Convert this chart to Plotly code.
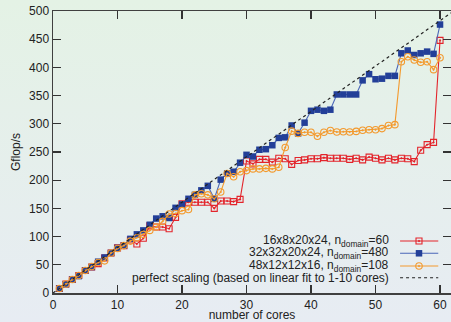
import base64
import plotly.graph_objects as go

cores = list(range(1, 61))

red_vals = [8, 16, 24, 31, 40, 46, 52, 62, 71, 80, 84, 94, 87, 97, 119, 117, 117, 114, 134, 158,
            161, 161, 161, 161, 150, 163, 163, 162, 166, 234, 229, 237, 237, 232, 239, 238, 228, 235, 236, 238,
            238, 240, 239, 239, 239, 237, 239, 236, 241, 239, 236, 239, 236, 239, 238, 233, 253, 263, 267, 448]

blue_vals = [8, 15.5, 24, 30, 40, 46, 55.5, 63, 71, 80, 84, 96, 104, 111, 121, 132, 136, 133, 151, 157,
             167, 174, 182, 190, 167, 201, 212, 215, 231, 245, 242, 254, 255, 262, 275, 276, 297, 283, 302, 323,
             325, 323, 325, 352, 352, 352, 352, 377, 388, 379, 380, 385, 385, 425, 430, 422, 425, 428, 424, 476]

orange_vals = [8, 16, 24, 31, 40, 47, 54, 57, 71, 79, 84, 92, 98, 104, 111, 117, 127, 140, 141, 146,
               148, 174, 176, 174, 167, 179, 212, 206, 215, 217, 220, 220, 221, 220, 223, 258, 287, 283, 285, 285,
               278, 285, 288, 285.5, 286, 285.5, 286.5, 288.5, 289.5, 289.5, 291.5, 297, 298.5, 410, 419, 413, 409, 410, 396, 417]

perfect_x = [0, 62]
perfect_y = [0, 499]

x_ticks = [0, 10, 20, 30, 40, 50, 60]
y_ticks = [0, 50, 100, 150, 200, 250, 300, 350, 400, 450, 500]

labels = ["16x8x20x24, n<sub>domain</sub>=60",
          "32x32x20x24, n<sub>domain</sub>=480",
          "48x12x12x16, n<sub>domain</sub>=108",
          "perfect scaling (based on linear fit to 1-10 cores)"]

RED, BLUE, BLUE_LINE, ORANGE = "#e3242b", "#233f98", "#4a66b8", "#f39a2e"
FONT = "Liberation Sans"

red_marker = dict(symbol="square-open-dot", size=6, color=RED, line=dict(width=1.1, color=RED))
blue_marker = dict(symbol="square", size=6.5, color=BLUE)
orange_marker = dict(symbol="circle-open-dot", size=6.5, color=ORANGE, line=dict(width=1.1, color=ORANGE))

fig = go.Figure()
fig.add_trace(go.Scatter(x=cores, y=red_vals, mode="lines+markers",
                         line=dict(color=RED, width=1.1), marker=red_marker))
fig.add_trace(go.Scatter(x=cores, y=blue_vals, mode="lines+markers",
                         line=dict(color=BLUE_LINE, width=1.1), marker=blue_marker))
fig.add_trace(go.Scatter(x=cores, y=orange_vals, mode="lines+markers",
                         line=dict(color=ORANGE, width=1.1), marker=orange_marker))
fig.add_trace(go.Scatter(x=perfect_x, y=perfect_y, mode="lines",
                         line=dict(color="#222222", width=1.2, dash="dot")))

# legend samples on a hidden overlay axis (0..1 box)
leg_y = [0.1844, 0.1408, 0.0957, 0.0543]
leg_x0, leg_x1, leg_xm = 0.872, 0.968, 0.9196
styles = [
    (RED, red_marker, "solid"),
    (BLUE_LINE, blue_marker, "solid"),
    (ORANGE, orange_marker, "solid"),
    ("#222222", None, "dot"),
]
for (col, mk, dash), yy, lab in zip(styles, leg_y, labels):
    fig.add_trace(go.Scatter(x=[leg_x0, leg_x1], y=[yy, yy], mode="lines", xaxis="x3", yaxis="y3",
                             line=dict(color=col, width=1.1, dash=dash), hoverinfo="skip"))
    if mk is not None:
        fig.add_trace(go.Scatter(x=[leg_xm], y=[yy], mode="markers", xaxis="x3", yaxis="y3",
                                 marker=mk, hoverinfo="skip"))
    fig.add_annotation(x=0.849, y=yy, xref="paper", yref="paper", text=lab, showarrow=False,
                       xanchor="right", yanchor="middle", font=dict(family=FONT, size=12, color="#222"))

svg = ('<svg xmlns="http://www.w3.org/2000/svg" width="451" height="322" preserveAspectRatio="none">'
       '<defs><linearGradient id="g" x1="0" y1="0" x2="0" y2="1">'
       '<stop offset="0" stop-color="#e4f2e5"/><stop offset="1" stop-color="#e7ecf3"/>'
       '</linearGradient></defs><rect width="451" height="322" fill="url(#g)"/></svg>')
src = "data:image/svg+xml;base64," + base64.b64encode(svg.encode()).decode()

W, H, L, R, T, B = 451, 322, 53, 0, 11, 29
pw, ph = W - L - R, H - T - B
fig.add_layout_image(dict(source=src, xref="paper", yref="paper", x=-L / pw, y=1 + T / ph,
                          sizex=W / pw, sizey=H / ph, sizing="stretch", layer="below",
                          xanchor="left", yanchor="top"))

axis_common = dict(showline=True, linecolor="#404040", linewidth=1.5, mirror="ticks",
                   ticks="inside", ticklen=8, tickcolor="#333", tickwidth=1.2,
                   showgrid=False, zeroline=False, automargin=False,
                   tickfont=dict(family=FONT, size=12, color="#222"))

fig.update_layout(
    width=W, height=H, margin=dict(l=L, r=R, t=T, b=B),
    paper_bgcolor="#e6efec", plot_bgcolor="rgba(0,0,0,0)",
    showlegend=False, hovermode=False,
    font=dict(family=FONT, size=12, color="#222"),
    xaxis=dict(range=[0, 61.7], tickvals=x_ticks, title=dict(text="number of cores", standoff=0,
               font=dict(family=FONT, size=12, color="#222")), **axis_common),
    yaxis=dict(range=[0, 500], tickvals=y_ticks, title=dict(text="Gflop/s", standoff=6,
               font=dict(family=FONT, size=12, color="#222")), **axis_common),
    xaxis3=dict(overlaying="x", range=[0, 1], visible=False),
    yaxis3=dict(overlaying="y", range=[0, 1], visible=False, anchor="x3"),
)

fig.write_html("out.html", config={"displayModeBar": False, "staticPlot": True},
               post_script="document.body.style.margin='0';document.body.style.overflow='hidden';")
